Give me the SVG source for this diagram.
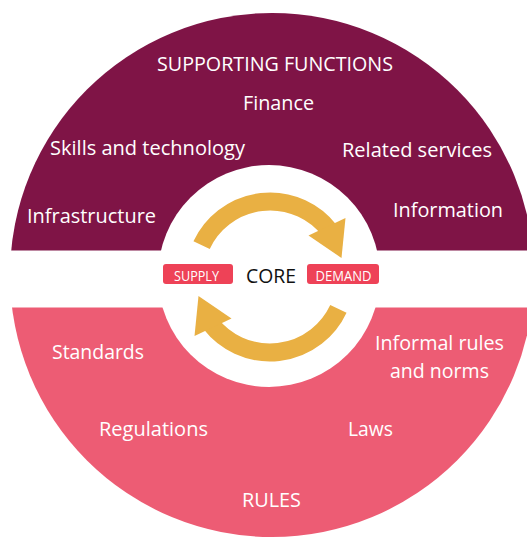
<svg xmlns="http://www.w3.org/2000/svg" width="527" height="539" viewBox="0 0 527 539">
<style>
.lbl{font-family:"Open Sans","Liberation Sans",sans-serif;font-size:19.5px;fill:#ffffff;text-anchor:middle}
.hd{font-family:"Open Sans","Liberation Sans",sans-serif;font-size:20.5px;fill:#ffffff;text-anchor:middle}
.tag{font-family:"Open Sans","Liberation Sans",sans-serif;font-size:14.5px;fill:#ffffff;text-anchor:middle}
.core{font-family:"Open Sans","Liberation Sans",sans-serif;font-size:20px;fill:#111111;text-anchor:middle}
.box{fill:#EE4257}
.arc{fill:none;stroke:#E9B043;stroke-width:18}
.head{fill:#E9B043}
</style>
<defs>
<clipPath id="outer"><circle cx="272" cy="275" r="262"/></clipPath>
<g id="arrow">
<path class="arc" d="M201.6 245.1 A75.5 75.5 0 0 1 329.5 230.5"/>
<polygon class="head" points="345.5,218 308.5,235.5 341.5,258"/>
</g>
</defs>
<rect width="527" height="539" fill="#ffffff"/>
<g id="supporting-functions">
<rect x="0" y="0" width="527" height="250.5" fill="#7F1446" clip-path="url(#outer)"/>
<text class="hd" x="275" y="71" textLength="236" lengthAdjust="spacingAndGlyphs">SUPPORTING FUNCTIONS</text>
<text class="lbl" x="278.5" y="110" textLength="71" lengthAdjust="spacingAndGlyphs">Finance</text>
<text class="lbl" x="147.5" y="155" textLength="195" lengthAdjust="spacingAndGlyphs">Skills and technology</text>
<text class="lbl" x="417" y="157" textLength="150" lengthAdjust="spacingAndGlyphs">Related services</text>
<text class="lbl" x="91.5" y="223" textLength="129" lengthAdjust="spacingAndGlyphs">Infrastructure</text>
<text class="lbl" x="448" y="217" textLength="110" lengthAdjust="spacingAndGlyphs">Information</text>
</g>
<g id="rules">
<rect x="0" y="307.5" width="527" height="232" fill="#ED5C74" clip-path="url(#outer)"/>
<text class="lbl" x="98" y="359" textLength="92" lengthAdjust="spacingAndGlyphs">Standards</text>
<text class="lbl" x="153.5" y="435.5" textLength="109" lengthAdjust="spacingAndGlyphs">Regulations</text>
<text class="lbl" x="439.5" y="350" textLength="129" lengthAdjust="spacingAndGlyphs">Informal rules</text>
<text class="lbl" x="439.5" y="378" textLength="99" lengthAdjust="spacingAndGlyphs">and norms</text>
<text class="lbl" x="370.5" y="435.5" textLength="45" lengthAdjust="spacingAndGlyphs">Laws</text>
<text class="hd" x="271.5" y="506.5" textLength="59" lengthAdjust="spacingAndGlyphs">RULES</text>
</g>
<g id="core">
<circle cx="269" cy="276" r="111" fill="#ffffff"/>
<text class="core" x="271" y="283" textLength="50" lengthAdjust="spacingAndGlyphs">CORE</text>
</g>
<g id="supply">
<rect class="box" x="163" y="264" width="70" height="20" rx="3"/>
<text class="tag" x="196.5" y="281" textLength="45" lengthAdjust="spacingAndGlyphs">SUPPLY</text>
</g>
<g id="demand">
<rect class="box" x="307" y="264" width="72" height="20" rx="3"/>
<text class="tag" x="343.5" y="281" textLength="56" lengthAdjust="spacingAndGlyphs">DEMAND</text>
</g>
<g id="connectors">
<use href="#arrow"/>
<use href="#arrow" transform="rotate(180 270 277)"/>
</g>
</svg>
